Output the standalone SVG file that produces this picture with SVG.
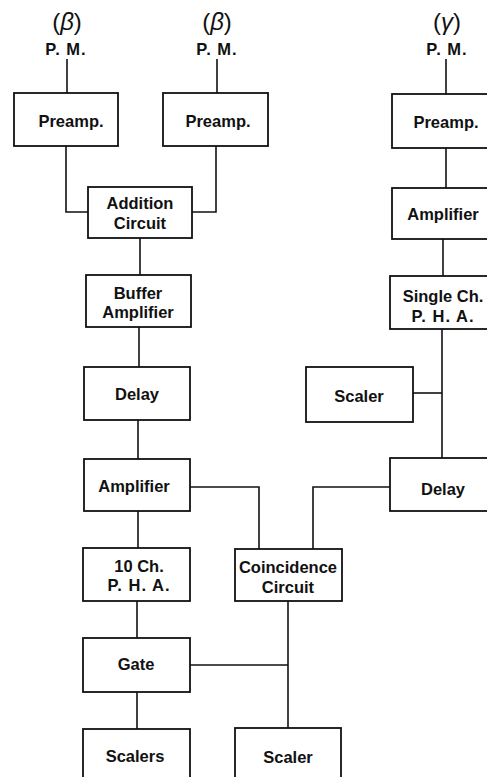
<svg xmlns="http://www.w3.org/2000/svg" width="487" height="777" viewBox="0 0 487 777">
<style>
rect.b{fill:none;stroke:#111;stroke-width:1.8}
.c path{fill:none;stroke:#111;stroke-width:1.6}
text{font-family:"Liberation Sans",Arial,sans-serif;font-weight:bold;font-size:16.5px;fill:#111;text-anchor:middle}
text.h{font-size:24px;font-weight:normal}
</style>
<rect width="487" height="777" fill="#fff"/>
<g class="c" id="connectors">
<path d="M67,59V93"/>
<path d="M217,59V93"/>
<path d="M446,59V94"/>
<path d="M66,146V212H88"/>
<path d="M216,146V212H192"/>
<path d="M140,238V275"/>
<path d="M139,327V367"/>
<path d="M138,420V459"/>
<path d="M138,511V548"/>
<path d="M137,601V638"/>
<path d="M137,692V729"/>
<path d="M190,487H259V549"/>
<path d="M390,487H313V549"/>
<path d="M190,665H288"/>
<path d="M288,601V728"/>
<path d="M446,148V188"/>
<path d="M443,239V276"/>
<path d="M442,329V458"/>
<path d="M413,393H442"/>
</g>
<g id="pm1"><text class="h" x="67" y="30">(<tspan font-style="italic">β</tspan>)</text><text x="66" y="55" letter-spacing="1">P. M.</text></g>
<g id="pm2"><text class="h" x="217" y="30">(<tspan font-style="italic">β</tspan>)</text><text x="217" y="55" letter-spacing="1">P. M.</text></g>
<g id="pm3"><text class="h" x="447" y="30">(<tspan font-style="italic">γ</tspan>)</text><text x="447" y="55" letter-spacing="1">P. M.</text></g>
<g id="preamp1"><rect class="b" x="14" y="93" width="104" height="53"/><text x="71" y="127">Preamp.</text></g>
<g id="preamp2"><rect class="b" x="163" y="93" width="105" height="53"/><text x="218" y="127">Preamp.</text></g>
<g id="preamp3"><rect class="b" x="392" y="94" width="106" height="54"/><text x="446" y="128">Preamp.</text></g>
<g id="addition"><rect class="b" x="88" y="187" width="104" height="51"/><text x="140" y="209">Addition</text><text x="140" y="229">Circuit</text></g>
<g id="buffer"><rect class="b" x="86" y="275" width="105" height="52"/><text x="138" y="299">Buffer</text><text x="138" y="318">Amplifier</text></g>
<g id="delay1"><rect class="b" x="84" y="367" width="106" height="53"/><text x="137" y="400">Delay</text></g>
<g id="amp1"><rect class="b" x="84" y="459" width="106" height="52"/><text x="134" y="492">Amplifier</text></g>
<g id="pha10"><rect class="b" x="83" y="548" width="107" height="53"/><text x="139" y="572">10 Ch.</text><text x="139" y="591" letter-spacing="1">P. H. A.</text></g>
<g id="gate"><rect class="b" x="83" y="638" width="107" height="54"/><text x="136" y="670">Gate</text></g>
<g id="scalers"><rect class="b" x="83" y="729" width="107" height="60"/><text x="135" y="762">Scalers</text></g>
<g id="coinc"><rect class="b" x="235" y="549" width="107" height="52"/><text x="288" y="573">Coincidence</text><text x="288" y="593">Circuit</text></g>
<g id="scaler2"><rect class="b" x="235" y="728" width="106" height="60"/><text x="288" y="763">Scaler</text></g>
<g id="amp3"><rect class="b" x="392" y="188" width="106" height="51"/><text x="443" y="220">Amplifier</text></g>
<g id="single"><rect class="b" x="390" y="276" width="108" height="53"/><text x="443" y="302">Single Ch.</text><text x="443" y="322" letter-spacing="1">P. H. A.</text></g>
<g id="scaler1"><rect class="b" x="306" y="367" width="107" height="55"/><text x="359" y="402">Scaler</text></g>
<g id="delay3"><rect class="b" x="390" y="458" width="108" height="53"/><text x="443" y="495">Delay</text></g>
</svg>
